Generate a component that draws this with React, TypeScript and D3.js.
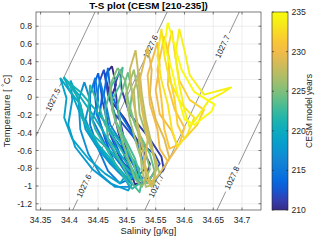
import React from 'react';
import * as d3 from 'd3';

// model years, one T-S loop per year
const years = [
  210, 211, 212, 213, 214, 215, 216, 217, 218, 219, 220, 221, 222,
  223, 224, 225, 226, 227, 228, 229, 230, 231, 232, 233, 234, 235,
];

// salinity [g/kg], per year
const salinity: number[][] = [
  [34.474, 34.481, 34.471, 34.497, 34.522, 34.54, 34.531, 34.514, 34.497, 34.484, 34.474, 34.462, 34.474],
  [34.488, 34.491, 34.505, 34.54, 34.56, 34.564, 34.548, 34.522, 34.505, 34.495, 34.484, 34.479, 34.488],
  [34.46, 34.467, 34.479, 34.514, 34.548, 34.557, 34.54, 34.514, 34.488, 34.471, 34.457, 34.453, 34.46],
  [34.45, 34.457, 34.453, 34.479, 34.505, 34.522, 34.502, 34.479, 34.462, 34.447, 34.443, 34.45],
  [34.467, 34.471, 34.484, 34.505, 34.522, 34.531, 34.514, 34.497, 34.484, 34.467, 34.46, 34.467],
  [34.445, 34.45, 34.44, 34.462, 34.488, 34.505, 34.488, 34.467, 34.45, 34.436, 34.436, 34.445],
  [34.453, 34.462, 34.471, 34.497, 34.519, 34.526, 34.505, 34.484, 34.464, 34.447, 34.45, 34.453],
  [34.426, 34.436, 34.428, 34.445, 34.471, 34.497, 34.505, 34.479, 34.453, 34.433, 34.419, 34.416, 34.426],
  [34.402, 34.405, 34.398, 34.41, 34.44, 34.471, 34.502, 34.509, 34.484, 34.453, 34.428, 34.419, 34.402],
  [34.384, 34.395, 34.391, 34.405, 34.433, 34.462, 34.488, 34.497, 34.467, 34.44, 34.419, 34.405, 34.384],
  [34.39, 34.402, 34.419, 34.428, 34.45, 34.479, 34.502, 34.514, 34.488, 34.462, 34.44, 34.416, 34.39],
  [34.395, 34.416, 34.422, 34.44, 34.467, 34.497, 34.519, 34.522, 34.497, 34.471, 34.445, 34.419, 34.395],
  [34.436, 34.45, 34.462, 34.484, 34.505, 34.522, 34.509, 34.488, 34.467, 34.445, 34.433, 34.436],
  [34.493, 34.488, 34.474, 34.479, 34.497, 34.514, 34.526, 34.522, 34.509, 34.491, 34.467, 34.462, 34.474, 34.493],
  [34.502, 34.509, 34.505, 34.522, 34.54, 34.548, 34.536, 34.519, 34.509, 34.491, 34.484, 34.502],
  [34.484, 34.497, 34.502, 34.514, 34.531, 34.54, 34.526, 34.514, 34.502, 34.488, 34.474, 34.471, 34.484],
  [34.512, 34.519, 34.522, 34.536, 34.548, 34.557, 34.543, 34.531, 34.519, 34.505, 34.498, 34.512],
  [34.522, 34.526, 34.533, 34.543, 34.55, 34.547, 34.533, 34.526, 34.522, 34.515, 34.512, 34.522],
  [34.515, 34.519, 34.522, 34.531, 34.54, 34.553, 34.543, 34.533, 34.529, 34.519, 34.509, 34.505, 34.515],
  [34.536, 34.543, 34.54, 34.55, 34.565, 34.574, 34.557, 34.54, 34.531, 34.536, 34.526, 34.522, 34.536],
  [34.553, 34.557, 34.55, 34.557, 34.578, 34.588, 34.571, 34.557, 34.553, 34.54, 34.536, 34.553],
  [34.565, 34.574, 34.571, 34.583, 34.6, 34.591, 34.574, 34.565, 34.56, 34.553, 34.565],
  [34.578, 34.584, 34.591, 34.609, 34.634, 34.622, 34.6, 34.588, 34.583, 34.574, 34.571, 34.578],
  [34.56, 34.565, 34.574, 34.595, 34.617, 34.605, 34.588, 34.578, 34.571, 34.56, 34.553, 34.56],
  [34.591, 34.6, 34.609, 34.634, 34.681, 34.664, 34.643, 34.626, 34.609, 34.6, 34.591, 34.584, 34.591],
  [34.571, 34.583, 34.595, 34.617, 34.652, 34.647, 34.617, 34.6, 34.588, 34.578, 34.565, 34.571],
];

// temperature [deg C], per year
const temperature: number[][] = [
  [0.35, 0.14, -0.03, -0.25, -0.53, -0.75, -0.95, -0.98, -0.69, -0.36, -0.08, 0.25, 0.35],
  [0.31, 0.08, -0.19, -0.47, -0.67, -0.81, -0.94, -0.97, -0.78, -0.47, -0.14, 0.14, 0.31],
  [0.31, 0.03, -0.19, -0.47, -0.64, -0.75, -0.92, -0.89, -0.69, -0.42, -0.03, 0.19, 0.31],
  [0.27, 0.03, -0.19, -0.47, -0.69, -0.89, -0.94, -0.75, -0.47, -0.14, 0.14, 0.27],
  [0.33, 0.08, -0.14, -0.36, -0.58, -0.81, -0.92, -0.81, -0.58, -0.31, 0.03, 0.33],
  [0.22, -0.03, -0.25, -0.53, -0.75, -0.92, -0.97, -0.83, -0.58, -0.31, 0.03, 0.22],
  [0.19, -0.03, -0.31, -0.58, -0.81, -0.92, -0.89, -0.69, -0.47, -0.19, 0.08, 0.19],
  [0.17, -0.03, -0.25, -0.53, -0.75, -0.92, -1.01, -1.01, -0.86, -0.64, -0.36, -0.03, 0.17],
  [0.19, -0.03, -0.31, -0.56, -0.81, -0.97, -1.05, -0.98, -0.83, -0.61, -0.36, -0.08, 0.19],
  [0.22, -0.01, -0.23, -0.47, -0.69, -0.86, -0.97, -0.89, -0.69, -0.47, -0.19, 0.03, 0.22],
  [0.23, 0.06, -0.08, -0.31, -0.53, -0.75, -0.92, -0.86, -0.64, -0.42, -0.19, 0.03, 0.23],
  [0.19, -0.01, -0.23, -0.42, -0.58, -0.78, -0.92, -0.81, -0.58, -0.36, -0.14, 0.06, 0.19],
  [0.14, -0.08, -0.31, -0.53, -0.75, -0.97, -1.03, -0.83, -0.61, -0.36, -0.12, 0.14],
  [0.34, 0.14, -0.03, -0.25, -0.47, -0.69, -0.94, -1.07, -0.97, -0.75, -0.47, -0.14, 0.14, 0.34],
  [0.28, 0.06, -0.16, -0.42, -0.64, -0.83, -0.97, -0.92, -0.69, -0.42, -0.08, 0.28],
  [0.33, 0.19, -0.03, -0.31, -0.58, -0.81, -1.01, -0.92, -0.69, -0.42, -0.14, 0.14, 0.33],
  [0.31, 0.08, -0.19, -0.47, -0.69, -0.86, -0.97, -0.81, -0.58, -0.25, 0.03, 0.31],
  [0.28, 0.03, -0.25, -0.53, -0.78, -0.98, -1.01, -0.81, -0.53, -0.19, 0.08, 0.28],
  [0.53, 0.31, 0.03, -0.25, -0.53, -0.75, -1.01, -0.92, -0.64, -0.31, 0.03, 0.31, 0.53],
  [0.56, 0.31, 0.03, -0.25, -0.47, -0.69, -0.86, -0.97, -0.75, -0.47, -0.14, 0.19, 0.56],
  [0.62, 0.36, 0.08, -0.19, -0.38, -0.56, -0.72, -0.58, -0.36, -0.08, 0.25, 0.62],
  [0.69, 0.42, 0.14, -0.14, -0.34, -0.53, -0.58, -0.36, -0.03, 0.31, 0.69],
  [0.75, 0.47, 0.19, -0.03, -0.14, -0.31, -0.47, -0.31, -0.03, 0.25, 0.53, 0.75],
  [0.77, 0.47, 0.19, -0.08, -0.23, -0.42, -0.56, -0.36, -0.08, 0.19, 0.47, 0.77],
  [0.77, 0.53, 0.25, 0.03, 0.11, 0.04, -0.03, -0.19, -0.34, -0.14, 0.14, 0.47, 0.77],
  [0.84, 0.58, 0.31, 0.06, -0.08, -0.16, -0.31, -0.25, 0.03, 0.31, 0.58, 0.84],
];

const salTicks = [34.35, 34.4, 34.45, 34.5, 34.55, 34.6, 34.65, 34.7];
const tempTicks = [-1.2, -1, -0.8, -0.6, -0.4, -0.2, 0, 0.2, 0.4, 0.6, 0.8];
const yearTicks = [210, 215, 220, 225, 230, 235];

// isopycnals and the temperatures where their labels sit
const densityLevels = [1027.5, 1027.6, 1027.7, 1027.8];
const labelTemps = [[-0.03], [0.57, -1.0], [0.57, -1.0], [-0.91]];

// parula (every 4th of 64)
const parula = [
  '#352A87', '#3243BA', '#0363E1', '#0D75DC', '#1485D4', '#0998D1', '#06A7C6', '#15B1B4',
  '#38B99E', '#65BE86', '#92BF73', '#B7BD64', '#D9BA56', '#F8BB44', '#FCCE2E', '#F5EB18', '#F9FB0E',
];

// linear equation of state fitted to the drawn isopycnals
const salOnIsopycnal = (level: number, T: number) => 34.374 + (level - 1027.5 + 0.0587 * T) / 0.798;

const font = '"Liberation Sans", Arial, Helvetica, sans-serif';
const axisColor = '#262626';

export default function App() {
  const width = 320;
  const height = 240;
  const plot = { left: 36, right: 261, top: 12, bottom: 210 };
  const cbar = { left: 272, right: 288 };

  const x = d3.scaleLinear().domain([34.342, 34.733]).range([plot.left, plot.right]);
  const y = d3.scaleLinear().domain([-1.27, 0.96]).range([plot.bottom, plot.top]);
  const cy = d3.scaleLinear().domain([210, 235]).range([plot.bottom, plot.top]);
  const colorOf = d3.piecewise(d3.interpolateRgb, parula);
  const yearColor = (yr: number) => colorOf((yr - 210) / 25);

  const line = d3
    .line<[number, number]>()
    .x((d) => x(d[0]))
    .y((d) => y(d[1]));

  // isopycnal lines broken where labels go
  const tLo = -1.6;
  const tHi = 1.3;
  const contours = densityLevels.map((lvl, i) => {
    const ax = x(salOnIsopycnal(lvl, tLo));
    const ay = y(tLo);
    const bx = x(salOnIsopycnal(lvl, tHi));
    const by = y(tHi);
    const len = Math.hypot(bx - ax, by - ay);
    const angle = (Math.atan2(by - ay, bx - ax) * 180) / Math.PI;
    const gap = 15 / len;
    const params = labelTemps[i].map((t) => (t - tLo) / (tHi - tLo)).sort((a, b) => a - b);
    const segs: [number, number][] = [];
    let start = 0;
    params.forEach((p) => {
      segs.push([start, p - gap]);
      start = p + gap;
    });
    segs.push([start, 1]);
    return {
      lvl,
      angle,
      segs: segs.map(([p0, p1]) => ({
        x1: ax + (bx - ax) * p0,
        y1: ay + (by - ay) * p0,
        x2: ax + (bx - ax) * p1,
        y2: ay + (by - ay) * p1,
      })),
      labels: labelTemps[i].map((t) => ({ x: x(salOnIsopycnal(lvl, t)), y: y(t) })),
    };
  });

  const gradStops = d3.range(0, 1.0001, 0.05);

  return (
    <svg
      width={width}
      height={height}
      style={{ position: 'absolute', left: 0, top: 0, background: '#fff' }}
      fontFamily={font}
    >
      <defs>
        <clipPath id="plotClip">
          <rect x={plot.left} y={plot.top} width={plot.right - plot.left} height={plot.bottom - plot.top} />
        </clipPath>
        <linearGradient id="cbarGrad" x1="0" y1="1" x2="0" y2="0">
          {gradStops.map((t) => (
            <stop key={t} offset={t} stopColor={colorOf(t)} />
          ))}
        </linearGradient>
      </defs>

      <rect x={0} y={0} width={width} height={height} fill="#fff" />

      {/* grid */}
      <g stroke="#e3e3e3" strokeWidth={0.6}>
        {salTicks.map((t) => (
          <line key={'gx' + t} x1={x(t)} x2={x(t)} y1={plot.top} y2={plot.bottom} />
        ))}
        {tempTicks.map((t) => (
          <line key={'gy' + t} x1={plot.left} x2={plot.right} y1={y(t)} y2={y(t)} />
        ))}
      </g>

      {/* isopycnals */}
      <g clipPath="url(#plotClip)">
        {contours.map((c) =>
          c.segs.map((s, j) => (
            <line key={c.lvl + '-' + j} {...s} stroke="#666" strokeWidth={0.7} />
          ))
        )}
        {contours.map((c) =>
          c.labels.map((p, j) => (
            <text
              key={'l' + c.lvl + '-' + j}
              transform={`translate(${p.x},${p.y}) rotate(${c.angle})`}
              textAnchor="middle"
              dominantBaseline="central"
              fontSize={8}
              fill="#1a1a1a"
            >
              {String(c.lvl)}
            </text>
          ))
        )}
      </g>

      {/* T-S loops */}
      <g clipPath="url(#plotClip)" fill="none" strokeWidth={1.9} strokeLinejoin="round">
        {years.map((yr, i) => {
          const pts = salinity[i].map((s, j) => [s, temperature[i][j]] as [number, number]);
          return <path key={yr} d={line(pts) || ''} stroke={yearColor(yr)} />;
        })}
      </g>

      {/* axes box and ticks */}
      <rect
        x={plot.left}
        y={plot.top}
        width={plot.right - plot.left}
        height={plot.bottom - plot.top}
        fill="none"
        stroke={axisColor}
        strokeWidth={0.6}
      />
      <g stroke={axisColor} strokeWidth={0.6}>
        {salTicks.map((t) => (
          <g key={'tx' + t}>
            <line x1={x(t)} x2={x(t)} y1={plot.bottom} y2={plot.bottom - 2.5} />
            <line x1={x(t)} x2={x(t)} y1={plot.top} y2={plot.top + 2.5} />
          </g>
        ))}
        {tempTicks.map((t) => (
          <g key={'ty' + t}>
            <line x1={plot.left} x2={plot.left + 2.5} y1={y(t)} y2={y(t)} />
            <line x1={plot.right} x2={plot.right - 2.5} y1={y(t)} y2={y(t)} />
          </g>
        ))}
      </g>
      <g fontSize={8.6} fill={axisColor}>
        {salTicks.map((t) => (
          <text key={'lx' + t} x={x(t)} y={plot.bottom + 13} textAnchor="middle">
            {String(t)}
          </text>
        ))}
        {tempTicks.map((t) => (
          <text key={'ly' + t} x={plot.left - 4} y={y(t)} textAnchor="end" dominantBaseline="central">
            {String(t)}
          </text>
        ))}
      </g>

      {/* labels */}
      <text x={(plot.left + plot.right) / 2} y={9} textAnchor="middle" fontSize={9.8} fontWeight="bold" fill="#000">
        T-S plot (CESM [210-235])
      </text>
      <text
        x={(plot.left + plot.right) / 2}
        y={234}
        textAnchor="middle"
        fontSize={9.4}
        fill={axisColor}
      >
        Salinity [g/kg]
      </text>
      <text
        transform={`translate(10,${(plot.top + plot.bottom) / 2}) rotate(-90)`}
        textAnchor="middle"
        fontSize={9.4}
        fill={axisColor}
      >
        Temperature [ <tspan dy={-3} fontSize={6.5}>°</tspan>
        <tspan dy={3}>C]</tspan>
      </text>

      {/* colorbar */}
      <rect
        x={cbar.left}
        y={plot.top}
        width={cbar.right - cbar.left}
        height={plot.bottom - plot.top}
        fill="url(#cbarGrad)"
        stroke={axisColor}
        strokeWidth={0.6}
      />
      <g stroke={axisColor} strokeWidth={0.6}>
        {yearTicks.map((t) => (
          <g key={'ct' + t}>
            <line x1={cbar.right} x2={cbar.right - 2} y1={cy(t)} y2={cy(t)} />
            <line x1={cbar.left} x2={cbar.left + 2} y1={cy(t)} y2={cy(t)} />
          </g>
        ))}
      </g>
      <g fontSize={8.6} fill={axisColor}>
        {yearTicks.map((t) => (
          <text key={'cl' + t} x={cbar.right + 3.5} y={cy(t)} dominantBaseline="central">
            {t}
          </text>
        ))}
      </g>
      <text
        transform={`translate(309,${(plot.top + plot.bottom) / 2}) rotate(-90)`}
        textAnchor="middle"
        dominantBaseline="central"
        fontSize={8.6}
        fill={axisColor}
      >
        CESM model years
      </text>
    </svg>
  );
}
